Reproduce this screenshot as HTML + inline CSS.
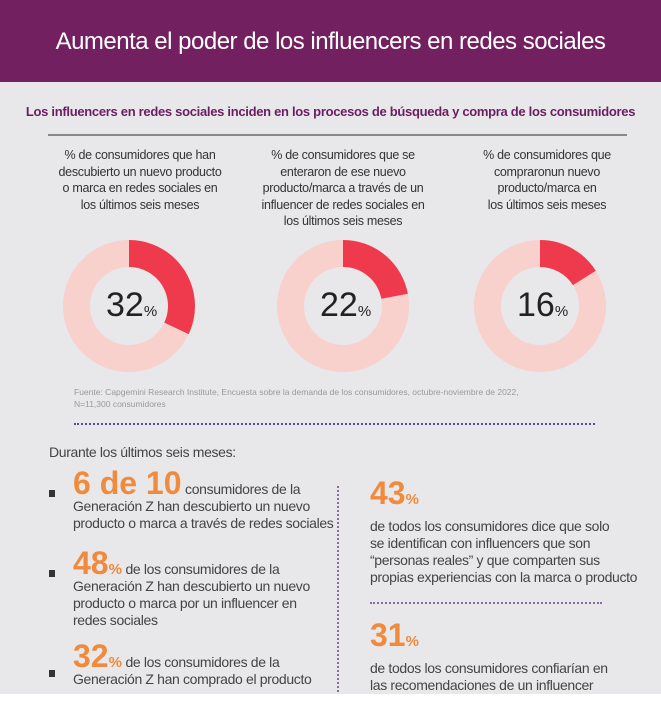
<!DOCTYPE html>
<html><head><meta charset="utf-8"><style>
body{margin:0;width:661px;height:711px;background:#fff;overflow:hidden;font-family:"Liberation Sans",sans-serif;}
.pg{position:absolute;left:0;top:0;width:661px;height:694px;background:#e8e8ea;overflow:hidden}
.hd{position:absolute;left:0;top:0;width:661px;height:82px;background:#72205f;color:#fff;font-size:24px;text-align:center;line-height:84px;letter-spacing:-0.5px}
.t{position:absolute;white-space:nowrap}
.sub{left:0;width:661px;text-align:center;top:104px;font-size:13px;font-weight:bold;color:#6b1e5f;letter-spacing:-0.3px}
.col{top:147px;width:200px;font-size:12.5px;line-height:16.5px;color:#333;text-align:center;letter-spacing:-0.3px}
.pct{font-size:34px;color:#222}
.pct small{font-size:15px}
.src{left:74px;top:386px;font-size:8.5px;line-height:12px;color:#999}
.body{font-size:14px;color:#444;line-height:17px;letter-spacing:-0.35px}
.big{color:#f08a3c;font-weight:bold;font-size:32px;letter-spacing:0}
.big small{font-size:15px}
.bul{position:absolute;width:6px;height:7px;background:#333;left:49px}
</style></head><body><div class="pg">
<div class="hd">Aumenta el poder de los influencers en redes sociales</div>
<div class="t sub">Los influencers en redes sociales inciden en los procesos de búsqueda y compra de los consumidores</div>
<div style="position:absolute;left:48px;top:134px;width:579px;height:2px;background:#888"></div>
<div class="t col" style="left:40px">% de consumidores que han<br>descubierto un nuevo producto<br>o marca en redes sociales en<br>los últimos seis meses</div>
<div class="t col" style="left:243px">% de consumidores que se<br>enteraron de ese nuevo<br>producto/marca a través de un<br>influencer de redes sociales en<br>los últimos seis meses</div>
<div class="t col" style="left:447px">% de consumidores que<br>compraronun nuevo<br>producto/marca en<br>los últimos seis meses</div>
<svg style="position:absolute;left:0;top:0" width="661" height="420">
<g fill="none" stroke-width="27">
<circle cx="129" cy="306" r="52.5" stroke="#f8d0cc"/>
<circle cx="129" cy="306" r="52.5" stroke="#ee3a4c" stroke-dasharray="105.5 400" transform="rotate(-90 129 306)"/>
<circle cx="343" cy="306" r="52.5" stroke="#f8d0cc"/>
<circle cx="343" cy="306" r="52.5" stroke="#ee3a4c" stroke-dasharray="72.6 400" transform="rotate(-90 343 306)"/>
<circle cx="540" cy="306" r="52.5" stroke="#f8d0cc"/>
<circle cx="540" cy="306" r="52.5" stroke="#ee3a4c" stroke-dasharray="52.8 400" transform="rotate(-90 540 306)"/>
</g></svg>
<div class="t pct" style="left:106px;top:286px">32<small>%</small></div>
<div class="t pct" style="left:320px;top:286px">22<small>%</small></div>
<div class="t pct" style="left:517px;top:286px">16<small>%</small></div>
<div class="t src">Fuente: Capgemini Research Institute, Encuesta sobre la demanda de los consumidores, octubre-noviembre de 2022,<br>N=11,300 consumidores</div>
<div style="position:absolute;left:74px;top:423px;width:521px;border-top:2px dotted #5a4a8a"></div>
<div class="t body" style="left:49px;top:444px">Durante los últimos seis meses:</div>
<div class="bul" style="top:490px"></div>
<div class="bul" style="top:570px"></div>
<div class="bul" style="top:670px"></div>
<div class="t body" style="left:73px;top:475px"><span class="big">6 de 10</span> consumidores de la<br>Generación Z han descubierto un nuevo<br>producto o marca a través de redes sociales</div>
<div class="t body" style="left:73px;top:555px"><span class="big">48<small>%</small></span> de los consumidores de la<br>Generación Z han descubierto un nuevo<br>producto o marca por un influencer en<br>redes sociales</div>
<div class="t body" style="left:73px;top:648px"><span class="big">32<small>%</small></span> de los consumidores de la<br>Generación Z han comprado el producto</div>
<div style="position:absolute;left:337px;top:486px;height:210px;border-left:2px dotted #8a6a9a"></div>
<div class="t body" style="left:370px;top:485px"><span class="big">43<small>%</small></span></div>
<div class="t body" style="left:370px;top:518px">de todos los consumidores dice que solo<br>se identifican con influencers que son<br>“personas reales” y que comparten sus<br>propias experiencias con la marca o producto</div>
<div style="position:absolute;left:370px;top:602px;width:232px;border-top:2px dotted #8a6a9a"></div>
<div class="t body" style="left:370px;top:627px"><span class="big">31<small>%</small></span></div>
<div class="t body" style="left:370px;top:660px">de todos los consumidores confiarían en<br>las recomendaciones de un influencer</div>
</div></body></html>
